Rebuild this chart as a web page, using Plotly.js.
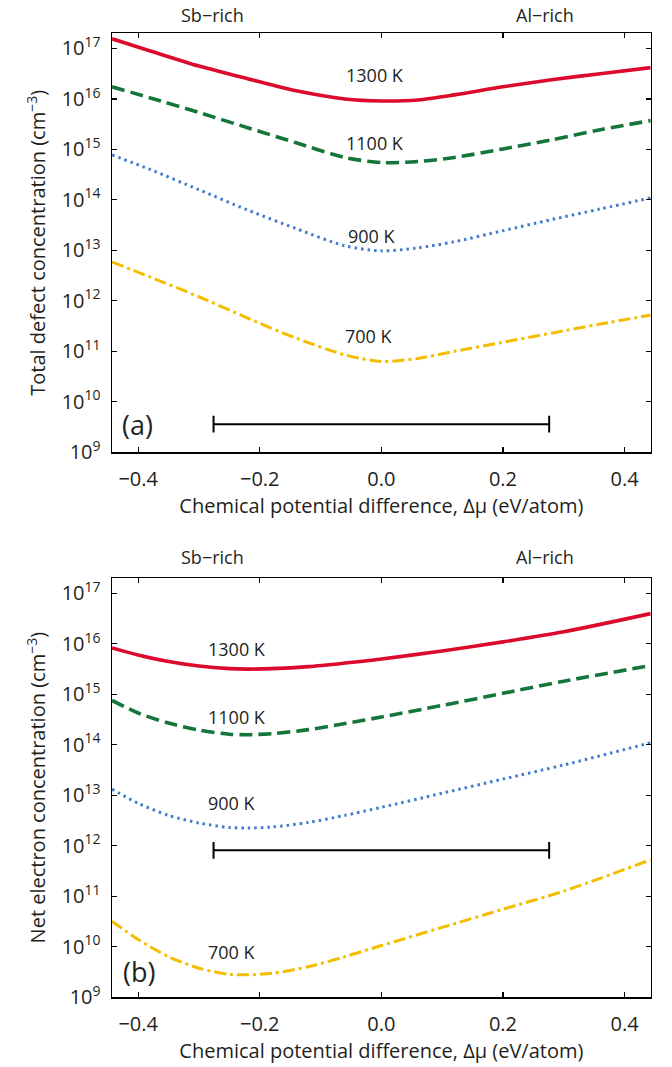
<!DOCTYPE html>
<html>
<head>
<meta charset="utf-8">
<script src="https://cdn.plot.ly/plotly-3.0.1.min.js"></script>
<style>html,body{margin:0;padding:0;background:#fff;}#chart{width:672px;height:1067px;}</style>
</head>
<body>
<div id="chart"></div>
<script>
// ---- data (x: chemical potential difference, eV/atom; y: log10 of concentration, cm^-3) ----
const xTop = [-0.443, -0.38, -0.30, -0.22, -0.14, -0.06, 0.0, 0.06, 0.12, 0.20, 0.28, 0.36, 0.443];
const logTop1300 = [17.19, 16.95, 16.65, 16.40, 16.16, 16.00, 15.96, 15.98, 16.08, 16.24, 16.38, 16.50, 16.62];
const logTop1100 = [16.24, 16.02, 15.73, 15.43, 15.13, 14.84, 14.74, 14.76, 14.84, 15.01, 15.19, 15.39, 15.57];
const logTop900  = [14.89, 14.60, 14.20, 13.80, 13.43, 13.09, 12.99, 13.05, 13.17, 13.39, 13.61, 13.82, 14.04];
const logTop700  = [12.77, 12.47, 12.08, 11.66, 11.26, 10.93, 10.80, 10.86, 11.00, 11.18, 11.36, 11.54, 11.72];

const xBot = [-0.443, -0.40, -0.35, -0.30, -0.25, -0.22, -0.18, -0.12, -0.06, 0.0, 0.10, 0.20, 0.30, 0.443];
const logBot1300 = [15.92, 15.78, 15.65, 15.56, 15.51, 15.50, 15.51, 15.55, 15.62, 15.70, 15.86, 16.04, 16.24, 16.60];
const logBot1100 = [14.88, 14.63, 14.43, 14.29, 14.21, 14.20, 14.22, 14.30, 14.42, 14.55, 14.78, 15.02, 15.26, 15.57];
const logBot900  = [13.12, 12.84, 12.60, 12.45, 12.36, 12.35, 12.37, 12.46, 12.60, 12.76, 13.04, 13.32, 13.60, 14.04];
const logBot700  = [10.50, 10.14, 9.80, 9.57, 9.45, 9.44, 9.47, 9.60, 9.80, 10.02, 10.38, 10.74, 11.10, 11.72];

const rangeBarX = [-0.276, 0.276];
const rangeBarTopY = [3.6e9, 3.6e9];
const rangeBarBotY = [8.1e11, 8.1e11];

const tempLabels = ["1300 K", "1100 K", "900 K", "700 K"];
const xTickVals = [-0.4, -0.2, 0.0, 0.2, 0.4];
const xTickText = ["\u22120.4", "\u22120.2", "0.0", "0.2", "0.4"];
const yExps = [9, 10, 11, 12, 13, 14, 15, 16, 17];

// ---- build ----
const pow10 = a => a.map(v => Math.pow(10, v));
const colors = ["#dc0a2d", "#14763a", "#3f7ccd", "#f4bd00"];
const dashes = ["solid", "13px,6px", "2.5px,4px", "12px,4px,3px,4px"];
const widths = [3.6, 3.6, 3, 3];

const topSeries = [logTop1300, logTop1100, logTop900, logTop700];
const botSeries = [logBot1300, logBot1100, logBot900, logBot700];

const traces = [];
topSeries.forEach((s, i) => traces.push({
  x: xTop, y: pow10(s), xaxis: 'x', yaxis: 'y', mode: 'lines', type: 'scatter',
  line: {color: colors[i], width: widths[i], dash: dashes[i], shape: 'spline', smoothing: 0.8},
  hoverinfo: 'skip', showlegend: false
}));
botSeries.forEach((s, i) => traces.push({
  x: xBot, y: pow10(s), xaxis: 'x2', yaxis: 'y2', mode: 'lines', type: 'scatter',
  line: {color: colors[i], width: widths[i], dash: dashes[i], shape: 'spline', smoothing: 0.8},
  hoverinfo: 'skip', showlegend: false
}));
[['x', 'y', rangeBarTopY], ['x2', 'y2', rangeBarBotY]].forEach(([xa, ya, yy]) => traces.push({
  x: rangeBarX, y: yy, xaxis: xa, yaxis: ya, mode: 'lines+markers', type: 'scatter',
  line: {color: '#000', width: 2},
  marker: {symbol: 'line-ns-open', size: 12, line: {color: '#000', width: 2}},
  hoverinfo: 'skip', showlegend: false
}));

const FONT = 'Open Sans, sans-serif';
const TXT = '#231f20';
const tickFont = {family: FONT, size: 20, color: TXT};
const titleFont = {family: FONT, size: 20, color: TXT};

function xAxis(anchor) {
  return {
    domain: [0.1667, 0.9683], anchor: anchor, range: [-0.443, 0.443],
    tickvals: xTickVals, ticktext: xTickText, ticks: 'inside', ticklen: 5, tickwidth: 1.2,
    tickcolor: '#000', mirror: 'ticks', showline: true, linecolor: '#000', linewidth: 1.5,
    showgrid: false, zeroline: false, tickfont: tickFont, ticklabelstandoff: 8,
    title: {text: 'Chemical potential difference, \u0394\u03bc (eV/atom)', font: titleFont, standoff: 6}
  };
}
function yAxis(dom, anchor, title) {
  return {
    domain: dom, anchor: anchor, type: 'log', range: [9, 17.3],
    tickvals: yExps.map(e => Math.pow(10, e)),
    ticktext: yExps.map(e => '10<sup>' + e + '</sup>'),
    ticks: 'inside', ticklen: 5, tickwidth: 1.2, tickcolor: '#000', mirror: 'ticks',
    showline: true, linecolor: '#000', linewidth: 1.5, showgrid: false, zeroline: false,
    tickfont: tickFont, ticklabelstandoff: 6,
    title: {text: title, font: titleFont, standoff: 10}
  };
}

const ann = [];
const labelPosTop = [[-0.01, 16.48], [-0.01, 15.13], [-0.015, 13.29], [-0.02, 11.31]];
const labelPosBot = [[-0.237, 15.90], [-0.237, 14.55], [-0.245, 12.85], [-0.245, 9.89]];
const tempFont = {family: FONT, size: 18, color: TXT};
tempLabels.forEach((t, i) => {
  ann.push({x: labelPosTop[i][0], y: labelPosTop[i][1], xref: 'x', yref: 'y', text: t,
    showarrow: false, font: tempFont, xanchor: 'center', yanchor: 'middle'});
  ann.push({x: labelPosBot[i][0], y: labelPosBot[i][1], xref: 'x2', yref: 'y2', text: t,
    showarrow: false, font: tempFont, xanchor: 'center', yanchor: 'middle'});
});
const sideFont = {family: FONT, size: 18, color: TXT};
function paperText(px, py, text, font) {
  ann.push({x: px / 672, y: 1 - py / 1067, xref: 'paper', yref: 'paper', text: text,
    showarrow: false, font: font, xanchor: 'center', yanchor: 'middle'});
}
paperText(212, 15, 'Sb\u2212rich', sideFont);
paperText(545, 15, 'Al\u2212rich', sideFont);
paperText(212, 557, 'Sb\u2212rich', sideFont);
paperText(545, 557, 'Al\u2212rich', sideFont);
paperText(137, 425, '(a)', {family: FONT, size: 27, color: TXT});
paperText(139, 971, '(b)', {family: FONT, size: 27, color: TXT});

const layout = {
  width: 672, height: 1067,
  margin: {l: 0, r: 0, t: 0, b: 0},
  paper_bgcolor: '#fff', plot_bgcolor: '#fff',
  showlegend: false,
  xaxis: xAxis('y'),
  yaxis: yAxis([0.5761, 0.9688], 'x', 'Total defect concentration (cm<sup>\u22123</sup>)'),
  xaxis2: xAxis('y2'),
  yaxis2: yAxis([0.0656, 0.4580], 'x2', 'Net electron concentration (cm<sup>\u22123</sup>)'),
  annotations: ann
};

Plotly.newPlot('chart', traces, layout, {staticPlot: true, displayModeBar: false});
</script>
</body>
</html>
